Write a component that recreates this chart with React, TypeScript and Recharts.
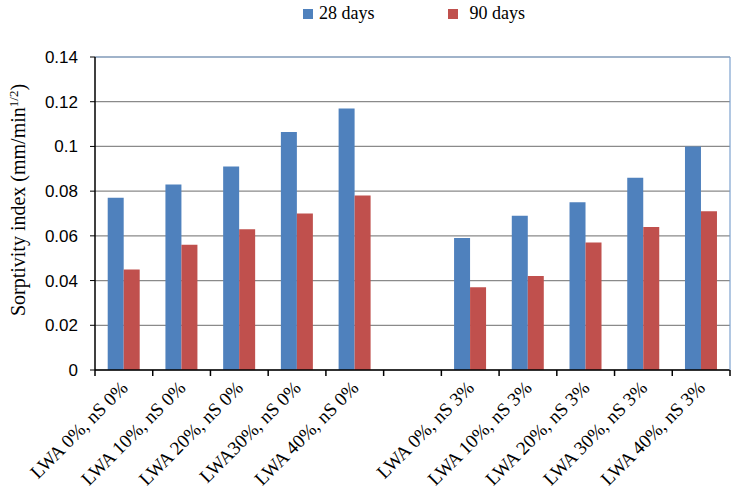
import React from "react";
import {
  BarChart,
  Bar,
  XAxis,
  YAxis,
  CartesianGrid,
  Legend,
  ReferenceLine,
} from "recharts";

const categories = [
  "LWA 0%, nS 0%",
  "LWA 10%, nS 0%",
  "LWA 20%, nS 0%",
  "LWA30%, nS 0%",
  "LWA 40%, nS 0%",
  "",
  "LWA 0%, nS 3%",
  "LWA 10%, nS 3%",
  "LWA 20%, nS 3%",
  "LWA 30%, nS 3%",
  "LWA 40%, nS 3%",
];
const days28 = [0.077, 0.083, 0.091, 0.1065, 0.117, null, 0.059, 0.069, 0.075, 0.086, 0.1];
const days90 = [0.045, 0.056, 0.063, 0.07, 0.078, null, 0.037, 0.042, 0.057, 0.064, 0.071];
const yTicks = [0, 0.02, 0.04, 0.06, 0.08, 0.1, 0.12, 0.14];

const data = categories.map((name, i) => ({ name, d28: days28[i], d90: days90[i] }));

const BLUE = "#4F81BD";
const RED = "#C0504D";
const SERIF = "'Liberation Serif', 'Times New Roman', serif";
const SANS = "'Liberation Sans', Arial, sans-serif";

const XTick = (props: any) => {
  const { x, y, payload, index } = props;
  const off = payload.offset ?? 0;
  const last = index === categories.length - 1;
  const ax = x + 5;
  const ay = y + 19;
  return (
    <g>
      <line x1={x - off} x2={x - off} y1={y} y2={y + 6} stroke="#000" strokeWidth={1.5} />
      {last && <line x1={x + off} x2={x + off} y1={y} y2={y + 6} stroke="#000" strokeWidth={1.5} />}
      <text
        x={ax}
        y={ay}
        textAnchor="end"
        transform={`rotate(-45, ${ax}, ${ay})`}
        fontFamily={SERIF}
        fontSize={19}
        fill="#000"
      >
        {payload.value}
      </text>
    </g>
  );
};

const YTitle = () => (
  <text
    x={25}
    y={200}
    textAnchor="middle"
    transform="rotate(-90, 25, 200)"
    fontFamily={SERIF}
    fontSize={20}
    fill="#000"
  >
    Sorptivity index (mm/min
    <tspan fontSize={13} dy={-7}>1/2</tspan>
    <tspan dy={7}>)</tspan>
  </text>
);

const LegendBox = () => (
  <div style={{ display: "flex", alignItems: "center", fontFamily: SERIF, fontSize: 18, color: "#000" }}>
    <span style={{ width: 10, height: 10, background: BLUE, display: "inline-block", marginRight: 6 }} />
    <span>28 days</span>
    <span style={{ width: 10, height: 10, background: RED, display: "inline-block", marginLeft: 73, marginRight: 12 }} />
    <span>90 days</span>
  </div>
);

export default function App() {
  return (
    <div style={{ position: "absolute", left: 0, top: 0, background: "#fff" }}>
      <BarChart
        width={740}
        height={493}
        data={data}
        margin={{ top: 36, right: 9, left: 0, bottom: 0 }}
        barGap={0}
        barCategoryGap="22%"
      >
        <CartesianGrid vertical={false} stroke="#8a8a8a" strokeWidth={1.2} />
        <ReferenceLine y={0.14} stroke="#7DA2CF" strokeWidth={1.2} />
        <XAxis
          dataKey="name"
          height={123}
          interval={0}
          tickLine={false}
          tickSize={0}
          tickMargin={0}
          tick={<XTick />}
          axisLine={{ stroke: "#000", strokeWidth: 1.5 }}
        />
        <YAxis
          domain={[0, 0.14]}
          ticks={yTicks}
          width={95}
          tickSize={5}
          tickMargin={12}
          tickLine={{ stroke: "#000" }}
          axisLine={{ stroke: "#000", strokeWidth: 1.5 }}
          tick={{ fill: "#000", fontSize: 17, fontFamily: SANS }}
          label={<YTitle />}
        />
        <YAxis
          yAxisId="right"
          orientation="right"
          width={1}
          tick={false}
          tickLine={false}
          axisLine={{ stroke: "#7DA2CF", strokeWidth: 1.2 }}
        />
        <Legend
          verticalAlign="top"
          content={<LegendBox />}
          wrapperStyle={{ top: 3, left: 303, width: "auto" }}
        />
        <Bar dataKey="d28" name="28 days" fill={BLUE} isAnimationActive={false} />
        <Bar dataKey="d90" name="90 days" fill={RED} isAnimationActive={false} />
      </BarChart>
    </div>
  );
}
